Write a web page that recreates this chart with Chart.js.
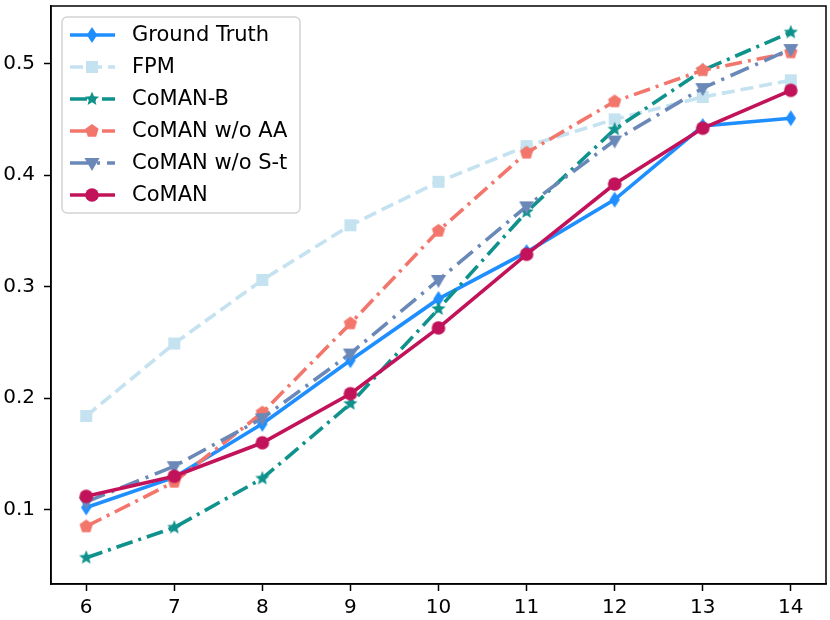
<!DOCTYPE html>
<html>
<head>
<meta charset="utf-8">
<script src="https://cdn.jsdelivr.net/npm/chart.js@4"></script>
<style>
  html, body { margin: 0; padding: 0; background: #fff; }
  #wrap { width: 830px; height: 620px; }
</style>
</head>
<body>
<div id="wrap"><canvas id="chart" width="830" height="620"></canvas></div>
<script>
const steps = [6, 7, 8, 9, 10, 11, 12, 13, 14];
const yTicks = [0.1, 0.2, 0.3, 0.4, 0.5];

const groundTruth = [0.102, 0.129, 0.177, 0.234, 0.289, 0.331, 0.378, 0.444, 0.451];
const fpm         = [0.184, 0.249, 0.306, 0.355, 0.394, 0.426, 0.450, 0.470, 0.485];
const comanB      = [0.057, 0.084, 0.128, 0.195, 0.280, 0.367, 0.441, 0.494, 0.528];
const comanNoAA   = [0.085, 0.125, 0.187, 0.267, 0.350, 0.420, 0.466, 0.494, 0.510];
const comanNoSt   = [0.107, 0.139, 0.182, 0.240, 0.306, 0.372, 0.431, 0.478, 0.513];
const coman       = [0.112, 0.130, 0.160, 0.204, 0.263, 0.329, 0.392, 0.442, 0.476];

const FONT = 'DejaVu Sans';
const LW = 3.6;

// matplotlib-like filled markers drawn into small canvases
function makeMarker(shape, color) {
    const c = document.createElement('canvas');
    const s = 20;
    c.width = s; c.height = s;
    const g = c.getContext('2d');
    const cx = s / 2, cy = s / 2;
    g.fillStyle = color;
    g.beginPath();
    if (shape === 'circle') {
        g.arc(cx, cy, 6.8, 0, Math.PI * 2);
    } else if (shape === 'thinDiamond') {
        g.moveTo(cx, cy - 8); g.lineTo(cx + 5.2, cy); g.lineTo(cx, cy + 8); g.lineTo(cx - 5.2, cy);
    } else if (shape === 'square') {
        g.rect(cx - 6, cy - 6, 12, 12);
    } else if (shape === 'star') {
        for (let i = 0; i < 10; i++) {
            const r = i % 2 === 0 ? 7.5 : 3.3;
            const a = -Math.PI / 2 + i * Math.PI / 5;
            const x = cx + r * Math.cos(a), y = cy + r * Math.sin(a);
            i === 0 ? g.moveTo(x, y) : g.lineTo(x, y);
        }
    } else if (shape === 'pentagon') {
        for (let i = 0; i < 5; i++) {
            const a = -Math.PI / 2 + i * 2 * Math.PI / 5;
            const x = cx + 7 * Math.cos(a), y = cy + 7 * Math.sin(a);
            i === 0 ? g.moveTo(x, y) : g.lineTo(x, y);
        }
    } else if (shape === 'triDown') {
        g.moveTo(cx - 7.5, cy - 5); g.lineTo(cx + 7.5, cy - 5); g.lineTo(cx, cy + 8);
    }
    g.closePath();
    g.fill();
    return c;
}

const series = [
    { label: 'Ground Truth',   data: groundTruth, color: '#1f8fff', dash: [],             marker: 'thinDiamond' },
    { label: 'FPM',            data: fpm,         color: '#c4e2f0', dash: [13, 6],        marker: 'square' },
    { label: 'CoMAN-B',        data: comanB,      color: '#0f928c', dash: [17, 6, 3, 6],  marker: 'star' },
    { label: 'CoMAN w/o AA',   data: comanNoAA,   color: '#f3766c', dash: [17, 6, 3, 6],  marker: 'pentagon' },
    { label: 'CoMAN w/o S-t',  data: comanNoSt,   color: '#6a88b8', dash: [20, 7, 3, 7],  marker: 'triDown' },
    { label: 'CoMAN',          data: coman,       color: '#c2135a', dash: [],             marker: 'circle' }
];
series.forEach(s => s.img = makeMarker(s.marker, s.color));

const datasets = series.map((s, i) => ({
    label: s.label,
    data: s.data.map((v, j) => ({ x: steps[j], y: v })),
    borderColor: s.color,
    backgroundColor: s.color,
    borderWidth: LW,
    borderDash: s.dash,
    pointStyle: s.img,
    pointRadius: 7,
    tension: 0,
    clip: false,
    order: series.length - i
}));

const framePlugin = {
    id: 'frame',
    afterDraw(chart) {
        const ctx = chart.ctx;
        const a = chart.chartArea;
        ctx.save();
        ctx.strokeStyle = '#000';
        ctx.lineWidth = 1.5;
        ctx.strokeRect(a.left, a.top, a.right - a.left, a.bottom - a.top);

        // legend box
        const lx = 62, ly = 17, lw = 238, lh = 196;
        ctx.fillStyle = 'rgba(255,255,255,0.85)';
        ctx.strokeStyle = '#d4d4d4';
        ctx.lineWidth = 1.5;
        ctx.beginPath();
        ctx.roundRect(lx, ly, lw, lh, 5);
        ctx.fill();
        ctx.stroke();

        ctx.font = '21px "' + FONT + '"';
        ctx.textBaseline = 'middle';
        ctx.textAlign = 'left';
        series.forEach((s, i) => {
            const y = 35 + i * 32;
            ctx.strokeStyle = s.color;
            ctx.lineWidth = LW;
            ctx.setLineDash(s.dash);
            ctx.beginPath();
            ctx.moveTo(70, y);
            ctx.lineTo(115, y);
            ctx.stroke();
            ctx.setLineDash([]);
            ctx.drawImage(s.img, 92 - s.img.width / 2, y - s.img.height / 2);
            ctx.fillStyle = '#000';
            ctx.fillText(s.label, 132, y + 1);
        });
        ctx.restore();
    }
};

new Chart(document.getElementById('chart'), {
    type: 'line',
    data: { datasets },
    plugins: [framePlugin],
    options: {
        responsive: false,
        animation: false,
        layout: { autoPadding: false, padding: { left: 0, top: 6, right: 4, bottom: 0 } },
        plugins: { legend: { display: false }, tooltip: { enabled: false } },
        scales: {
            x: {
                type: 'linear',
                min: 5.6,
                max: 14.4,
                afterBuildTicks: scale => { scale.ticks = steps.map(v => ({ value: v })); },
                afterFit: scale => { scale.height = 36; scale.paddingLeft = 0; scale.paddingRight = 0; },
                border: { color: '#000', width: 1.5 },
                grid: { drawOnChartArea: false, tickLength: 7, tickColor: '#000', tickWidth: 1.5 },
                ticks: { color: '#000', font: { family: FONT, size: 20 }, padding: 5, maxRotation: 0,
                         callback: v => String(v) }
            },
            y: {
                min: 0.0334,
                max: 0.5516,
                afterBuildTicks: scale => { scale.ticks = yTicks.map(v => ({ value: v })); },
                afterFit: scale => { scale.width = 51; scale.paddingTop = 0; scale.paddingBottom = 0; },
                border: { color: '#000', width: 1.5 },
                grid: { drawOnChartArea: false, tickLength: 7, tickColor: '#000', tickWidth: 1.5 },
                ticks: { color: '#000', font: { family: FONT, size: 20 }, padding: 9,
                         callback: v => v.toFixed(1) }
            }
        }
    }
});
</script>
</body>
</html>
